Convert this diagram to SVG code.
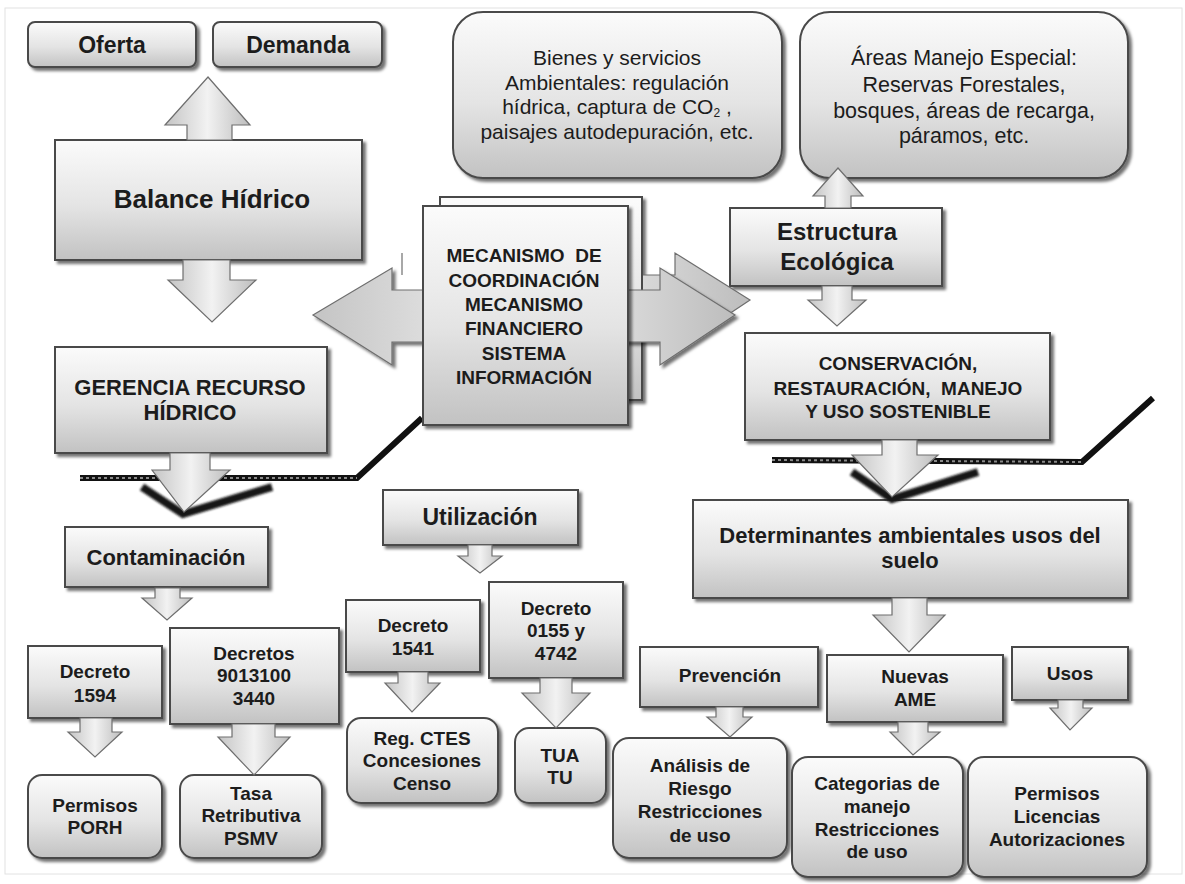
<svg xmlns="http://www.w3.org/2000/svg" width="1185" height="884" viewBox="0 0 1185 884">
<defs>
<linearGradient id="gb" x1="0" y1="0" x2="0" y2="1">
<stop offset="0" stop-color="#fbfbfb"/>
<stop offset="0.55" stop-color="#e4e4e4"/>
<stop offset="1" stop-color="#c2c2c2"/>
</linearGradient>
<linearGradient id="ga" x1="0" y1="0" x2="1" y2="0">
<stop offset="0" stop-color="#c4c4c4"/>
<stop offset="0.5" stop-color="#f2f2f2"/>
<stop offset="1" stop-color="#bdbdbd"/>
</linearGradient>
<filter id="sh" x="-10%" y="-10%" width="125%" height="130%">
<feDropShadow dx="3" dy="3" stdDeviation="1.6" flood-color="#000" flood-opacity="0.55"/>
</filter>
<filter id="bl" x="-10%" y="-30%" width="120%" height="160%">
<feGaussianBlur stdDeviation="1.2"/>
</filter>
<clipPath id="rightonly"><rect x="628" y="200" width="200" height="200"/></clipPath>
<style>
.box{fill:url(#gb);stroke:#4a4a4a;stroke-width:2;filter:url(#sh)}
.arr{fill:url(#ga);stroke:#6e6e6e;stroke-width:1.2}
.t{font-family:"Liberation Sans",Arial,sans-serif;font-weight:bold;fill:#1c1c1c;text-anchor:middle}
.s19{font-size:19px}
.r{font-weight:normal}
.hatch{fill:none;stroke:#111;stroke-width:6;stroke-linejoin:miter}
.hatch2{fill:none;stroke:#8a8a8a;stroke-width:2;stroke-dasharray:3 3}
.vshadow{fill:none;stroke:#151515;stroke-width:8;stroke-linejoin:miter;filter:url(#bl)}
</style>
</defs>
<rect x="0" y="0" width="1185" height="884" fill="#ffffff"/>
<rect x="5" y="8" width="1177" height="866" fill="none" stroke="#e2e2e2" stroke-width="1"/>

<g id="oferta"><rect class="box" x="28" y="22" width="168" height="45" rx="7"/><text class="t" x="112" y="53" font-size="23">Oferta</text></g>
<g id="demanda"><rect class="box" x="213" y="22" width="169" height="45" rx="7"/><text class="t" x="298" y="53" font-size="23">Demanda</text></g>
<g id="balance-hidrico"><rect class="box" x="55" y="140" width="307" height="120"/><text class="t" x="212" y="208" font-size="26">Balance Hídrico</text></g>
<g id="gerencia"><rect class="box" x="55" y="347" width="272" height="106"/><text class="t" x="190" y="395" font-size="22">GERENCIA RECURSO</text><text class="t" x="190" y="420" font-size="22">HÍDRICO</text></g>
<g id="contaminacion"><rect class="box" x="65" y="527" width="203" height="60"/><text class="t" x="166" y="565" font-size="22">Contaminación</text></g>
<g id="decreto-1594"><rect class="box" x="28" y="646" width="134" height="72"/><text class="t s19" x="95" y="678">Decreto</text><text class="t s19" x="95" y="702">1594</text></g>
<g id="decretos-9013100"><rect class="box" x="170" y="628" width="169" height="96"/><text class="t s19" x="254" y="660">Decretos</text><text class="t s19" x="254" y="682">9013100</text><text class="t s19" x="254" y="705">3440</text></g>
<g id="permisos-porh"><rect class="box" x="28" y="775" width="134" height="83" rx="14"/><text class="t s19" x="95" y="812">Permisos</text><text class="t s19" x="95" y="834">PORH</text></g>
<g id="tasa-retributiva"><rect class="box" x="180" y="775" width="142" height="83" rx="14"/><text class="t s19" x="251" y="800">Tasa</text><text class="t s19" x="251" y="822">Retributiva</text><text class="t s19" x="251" y="845">PSMV</text></g>
<g id="utilizacion"><rect class="box" x="383" y="490" width="195" height="55"/><text class="t" x="480" y="525" font-size="23">Utilización</text></g>
<g id="decreto-1541"><rect class="box" x="346" y="600" width="134" height="72"/><text class="t s19" x="413" y="632">Decreto</text><text class="t s19" x="413" y="655">1541</text></g>
<g id="reg-ctes"><rect class="box" x="347" y="718" width="151" height="85" rx="14"/><text class="t s19" x="422" y="745">Reg. CTES</text><text class="t s19" x="422" y="767">Concesiones</text><text class="t s19" x="422" y="790">Censo</text></g>
<g id="decreto-0155"><rect class="box" x="489" y="582" width="134" height="96"/><text class="t s19" x="556" y="615">Decreto</text><text class="t s19" x="556" y="637">0155 y</text><text class="t s19" x="556" y="660">4742</text></g>
<g id="tua-tu"><rect class="box" x="515" y="728" width="91" height="75" rx="14"/><text class="t s19" x="560" y="762">TUA</text><text class="t s19" x="560" y="784">TU</text></g>
<g id="bienes-servicios"><rect class="box" x="453" y="12" width="329" height="166" rx="30"/>
<text class="t r" x="617" y="65" font-size="21">Bienes y servicios</text>
<text class="t r" x="617" y="90" font-size="21">Ambientales: regulación</text>
<text class="t r" x="617" y="114" font-size="21">hídrica, captura de CO<tspan font-size="12" dy="3">2</tspan><tspan dy="-3"> ,</tspan></text>
<text class="t r" x="617" y="139" font-size="21">paisajes autodepuración, etc.</text></g>
<g id="areas-manejo"><rect class="box" x="800" y="12" width="328" height="166" rx="30"/>
<text class="t r" x="964" y="65" font-size="21.5">Áreas Manejo Especial:</text>
<text class="t r" x="964" y="92" font-size="21.5">Reservas Forestales,</text>
<text class="t r" x="964" y="118" font-size="21.5">bosques, áreas de recarga,</text>
<text class="t r" x="964" y="143" font-size="21.5">páramos, etc.</text></g>
<g id="estructura-ecologica"><rect class="box" x="730" y="208" width="212" height="78"/><text class="t" x="837" y="240" font-size="24">Estructura</text><text class="t" x="837" y="270" font-size="24">Ecológica</text></g>
<g id="conservacion"><rect class="box" x="745" y="333" width="305" height="107"/><text class="t s19" x="898" y="370">CONSERVACIÓN,</text><text class="t s19" x="898" y="395" xml:space="preserve">RESTAURACIÓN,  MANEJO</text><text class="t s19" x="898" y="418">Y USO SOSTENIBLE</text></g>
<g id="determinantes"><rect class="box" x="693" y="500" width="435" height="98"/><text class="t" x="910" y="543" font-size="22">Determinantes ambientales usos del</text><text class="t" x="910" y="568" font-size="22">suelo</text></g>
<g id="prevencion"><rect class="box" x="640" y="647" width="178" height="60"/><text class="t s19" x="730" y="682">Prevención</text></g>
<g id="analisis-riesgo"><rect class="box" x="613" y="738" width="174" height="120" rx="16"/><text class="t s19" x="700" y="772">Análisis de</text><text class="t s19" x="700" y="795">Riesgo</text><text class="t s19" x="700" y="818">Restricciones</text><text class="t s19" x="700" y="842">de uso</text></g>
<g id="nuevas-ame"><rect class="box" x="827" y="655" width="176" height="67"/><text class="t s19" x="915" y="683">Nuevas</text><text class="t s19" x="915" y="706">AME</text></g>
<g id="categorias"><rect class="box" x="792" y="757" width="171" height="120" rx="16"/><text class="t s19" x="877" y="790">Categorias de</text><text class="t s19" x="877" y="813">manejo</text><text class="t s19" x="877" y="836">Restricciones</text><text class="t s19" x="877" y="858">de uso</text></g>
<g id="usos"><rect class="box" x="1012" y="647" width="116" height="53"/><text class="t s19" x="1070" y="680">Usos</text></g>
<g id="permisos-licencias"><rect class="box" x="968" y="757" width="179" height="120" rx="16"/><text class="t s19" x="1057" y="800">Permisos</text><text class="t s19" x="1057" y="823">Licencias</text><text class="t s19" x="1057" y="846">Autorizaciones</text></g>

<g id="mecanismo-back"><rect class="box" x="440" y="197" width="202" height="203"/></g>

<g id="connectors">
<path class="arr" clip-path="url(#rightonly)" transform="translate(15,-15)" d="M313,315 L392,268 L392,290 L660,290 L660,268 L735,315 L660,365 L660,342 L392,342 L392,365 Z"/>
<path class="arr" d="M402,253 L402,275" stroke="#333" stroke-width="2.5"/>
<path class="arr" style="filter:url(#sh)" d="M313,315 L392,268 L392,290 L660,290 L660,268 L735,315 L660,365 L660,342 L392,342 L392,365 Z"/>
<polyline class="hatch" points="80,478 357,478 422,418"/>
<polyline class="hatch2" points="80,478 357,478"/>
<polyline class="vshadow" points="142,487 183,514 272,487"/>
<polyline class="hatch" points="772,460 1082,462 1153,398"/>
<polyline class="hatch2" points="772,460 1082,462"/>
<polyline class="vshadow" points="852,472 892,499 978,472"/>
<path class="arr" d="M187,140 L187,125 L165,125 L208,77 L250,125 L232,125 L232,140 Z"/>
<path class="arr" d="M183,260 L230,260 L230,280 L256,280 L212,322 L168,280 L183,280 Z"/>
<path class="arr" d="M170,453 L210,453 L210,470 L230,470 L184,512 L152,470 L170,470 Z"/>
<path class="arr" d="M155,588 L180,588 L180,598 L192,598 L167,620 L142,598 L155,598 Z"/>
<path class="arr" d="M80,718 L112,718 L112,732 L122,732 L95,757 L68,732 L80,732 Z"/>
<path class="arr" d="M232,724 L275,724 L275,737 L290,737 L254,775 L218,737 L232,737 Z"/>
<path class="arr" d="M468,545 L492,545 L492,556 L502,556 L480,573 L458,556 L468,556 Z"/>
<path class="arr" d="M398,672 L428,672 L428,683 L440,683 L412,712 L385,683 L398,683 Z"/>
<path class="arr" d="M540,678 L572,678 L572,693 L590,693 L556,728 L522,693 L540,693 Z"/>
<path class="arr" d="M825,208 L825,196 L813,196 L838,168 L863,196 L851,196 L851,208 Z"/>
<path class="arr" d="M822,286 L852,286 L852,300 L866,300 L837,326 L808,300 L822,300 Z"/>
<path class="arr" d="M882,440 L917,440 L917,455 L938,455 L892,497 L852,455 L882,455 Z"/>
<path class="arr" d="M892,598 L927,598 L927,615 L945,615 L909,652 L873,615 L892,615 Z"/>
<path class="arr" d="M716,707 L743,707 L743,717 L752,717 L730,737 L707,717 L716,717 Z"/>
<path class="arr" d="M898,722 L928,722 L928,732 L940,732 L913,755 L890,732 L898,732 Z"/>
<path class="arr" d="M1058,700 L1083,700 L1083,708 L1092,708 L1070,730 L1050,708 L1058,708 Z"/>
</g>

<g id="mecanismo"><rect class="box" x="423" y="206" width="205" height="219"/>
<text class="t s19" x="524" y="262" fill="#333" xml:space="preserve">MECANISMO  DE</text>
<text class="t s19" x="524" y="287">COORDINACIÓN</text>
<text class="t s19" x="524" y="311">MECANISMO</text>
<text class="t s19" x="524" y="335">FINANCIERO</text>
<text class="t s19" x="524" y="360">SISTEMA</text>
<text class="t s19" x="524" y="384">INFORMACIÓN</text></g>
</svg>
